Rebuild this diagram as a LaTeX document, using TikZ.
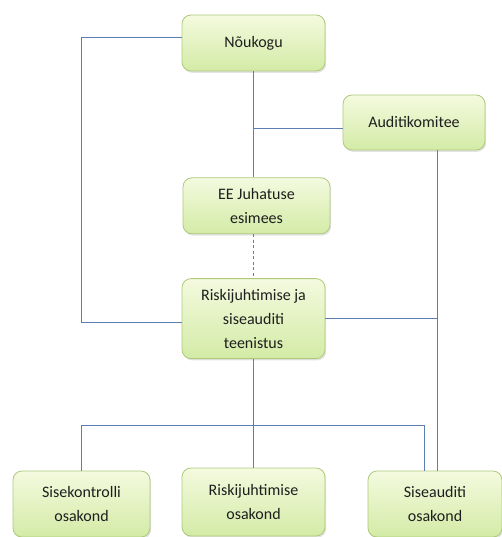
\documentclass[tikz,border=0pt]{standalone}
\usepackage{fontspec}
\setmainfont{Carlito}
\usetikzlibrary{positioning,shadows}
\definecolor{boxtop}{HTML}{F4FADF}
\definecolor{boxbot}{HTML}{D3EBA6}
\definecolor{boxline}{HTML}{AFC97C}
\definecolor{linkcol}{HTML}{5C7FB3}
\definecolor{txt}{HTML}{1E1E1E}
\begin{document}
\begin{tikzpicture}[
    x=1pt, y=1pt,
    every node/.style={font=\fontsize{16}{24}\selectfont, text=txt},
    unit/.style={draw=boxline, line width=0.8pt, rounded corners=9pt, align=center,
        top color=boxtop, bottom color=boxbot,
        drop shadow={opacity=0.22, shadow xshift=1.2pt, shadow yshift=-1.8pt},
        minimum width=143pt, minimum height=56pt, inner sep=2pt},
    dept/.style={unit, minimum height=66pt},
    link/.style={draw=linkcol, line width=0.7pt},
    dotted link/.style={link, dashed, dash pattern=on 3pt off 2.5pt}
]
\useasboundingbox (0,0) rectangle (502,-537);
\clip (0,0) rectangle (502,-537);
\node[unit] (nou) at (253.5,-43) {Nõukogu};
\node[unit, minimum width=142pt, minimum height=55pt] (audit) at (414,-122.5) {Auditikomitee};
\node[unit, minimum width=147pt, below=106pt of nou, xshift=3pt] (ee) {EE Juhatuse\\esimees};
\node[unit, minimum height=80pt, below=44pt of ee, xshift=-3pt] (riski) {Riskijuhtimise ja\\siseauditi\\teenistus};
\node[dept, minimum width=137pt] (sisek) at (81.5,-504) {Sisekontrolli\\osakond};
\node[dept, minimum height=68pt] (riskio) at (253.5,-502) {Riskijuhtimise\\osakond};
\node[dept, minimum width=134pt] (siseaud) at (435,-504) {Siseauditi\\osakond};
\coordinate (abus) at ([xshift=2pt]siseaud.north);
\draw[link] ([yshift=6pt]nou.west) -- ++(-100,0) |- ([yshift=-4pt]riski.west);
\draw[link] (nou.south) -- (nou.south |- ee.north);
\draw[link] ([yshift=-5.5pt]audit.west) -- ([yshift=-5.5pt]audit.west -| nou.south);
\draw[link] (abus) -- (abus |- audit.south);
\draw[link] (riski.east) -- (riski.east -| abus);
\draw[dotted link] (riski.north |- ee.south) -- (riski.north);
\draw[link] (riski.south) -- (riskio.north);
\draw[link] (sisek.north) -- ++(0,45) -| ([xshift=-11pt]siseaud.north);
\end{tikzpicture}
\end{document}
